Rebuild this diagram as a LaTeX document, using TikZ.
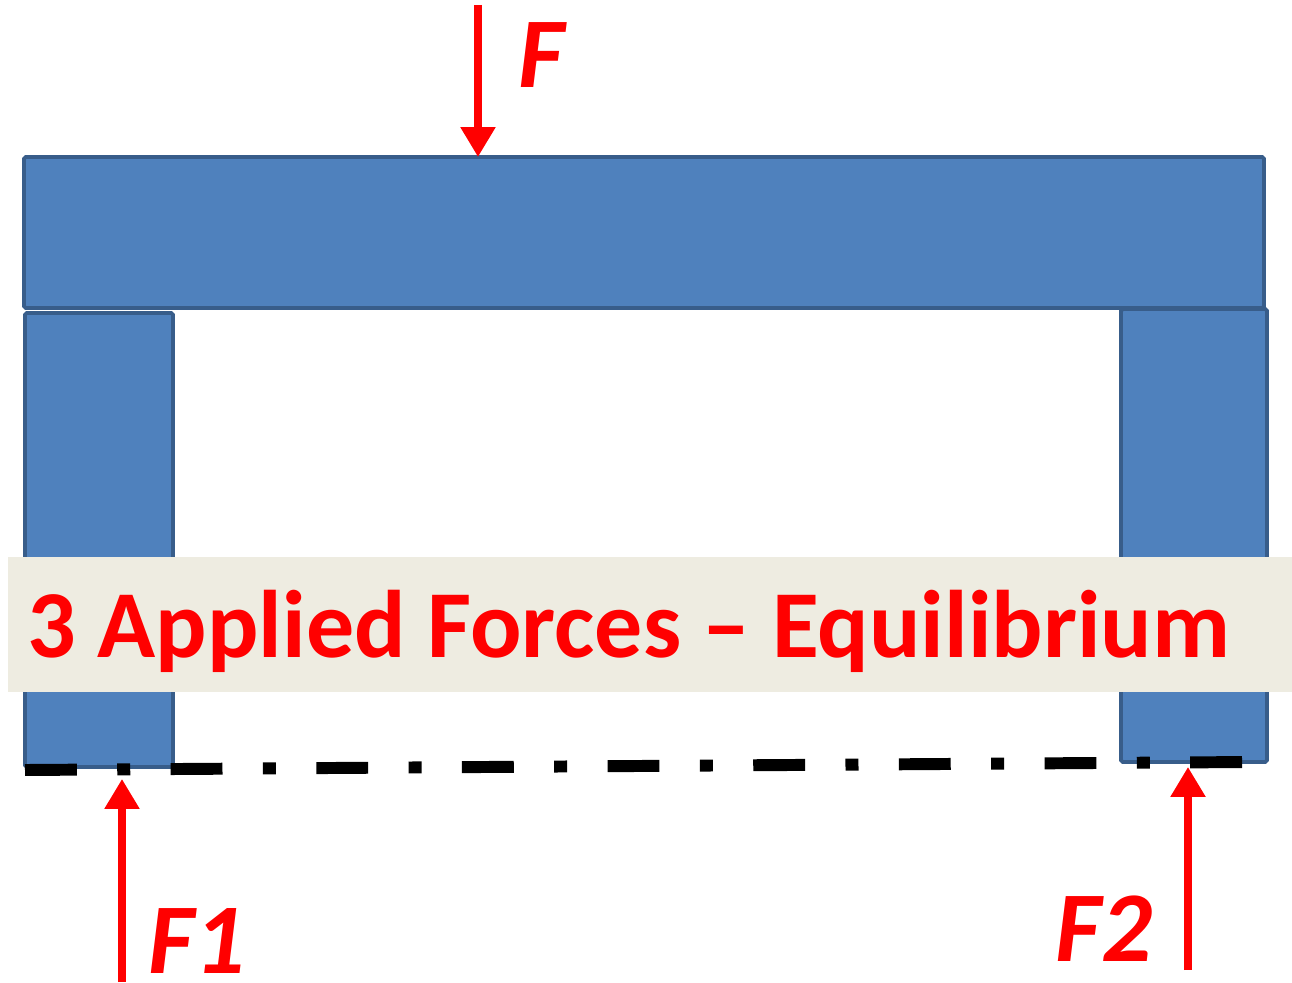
\documentclass[tikz,border=0pt]{standalone}
\usepackage{fontspec}
\setmainfont{Carlito}
\usetikzlibrary{positioning,arrows.meta}
\definecolor{memberfill}{HTML}{4F81BD}
\definecolor{memberline}{HTML}{385D8A}
\definecolor{bannerfill}{HTML}{EEECE1}
\definecolor{forcered}{HTML}{FF0000}

\begin{document}
\begin{tikzpicture}[
        x=0.02cm, y=-0.02cm,
        member/.style={draw=memberline, fill=memberfill, line width=2.2pt, rounded corners=1pt},
        banner/.style={fill=bannerfill, inner sep=0pt, minimum width=1284*0.02cm, minimum height=135*0.02cm},
        title/.style={text=forcered, inner sep=0pt, font=\fontsize{54.6}{60}\selectfont\bfseries},
        forcelabel/.style={text=forcered, inner sep=0pt, font=\fontsize{57}{62}\selectfont\bfseries\itshape},
        force/.style={-{Triangle[length=17pt, width=19pt]}, line width=4pt, forcered},
        baseline/.style={line width=6.8pt, black, dash pattern=on 29.5pt off 23pt on 7.4pt off 23pt}
    ]
        \useasboundingbox (0,0) rectangle (1292,983);

        % frame members
        \draw[member] (24,157) rectangle (1264,308);
        \draw[member] (25,313) rectangle (173,767);
        \draw[member] (1121,309) rectangle (1267,762);
        \coordinate (beamtop) at (478,157);

        % caption band
        \node[banner, anchor=north west] (band) at (8,557) {};
        \node[title, anchor=base west] (caption) at (27,657) {3 Applied Forces -- Equilibrium};

        % support line
        \coordinate (lineA) at (25,770);
        \coordinate (lineB) at (1250,762);
        \draw[baseline] (lineA) -- (lineB);

        % loads
        \coordinate (Ftail) at (478,5);
        \coordinate (F1tail) at (122,982);
        \coordinate (F1head) at (122,779);
        \coordinate (F2tail) at (1188,970);
        \coordinate (F2head) at (1188,767);
        \draw[force] (Ftail) -- (beamtop);
        \draw[force] (F1tail) -- (F1head);
        \draw[force] (F2tail) -- (F2head);

        \node[forcelabel, anchor=base west] (Flab) at (518,88) {F};
        \node[forcelabel, anchor=base west] (F1lab) at (148,973) {F1};
        \node[forcelabel, anchor=base west] (F2lab) at (1055,961) {F2};
    \end{tikzpicture}
\end{document}
